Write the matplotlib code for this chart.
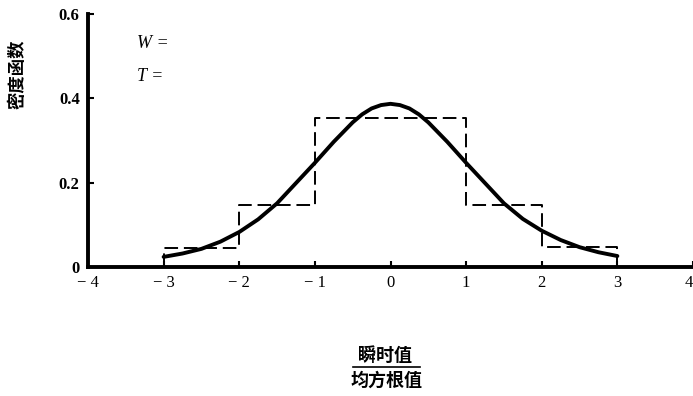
# density function of instantaneous value / rms, histogram vs curve
import matplotlib as mpl
mpl.use('Agg')
import numpy as np
import matplotlib.pyplot as plt

# histogram (dashed), bin edges and heights
bin_edges = [-3, -2, -1, 0, 1, 2, 3]
bin_heights = [0.045, 0.146, 0.353, 0.353, 0.146, 0.047]

# density curve
curve_x = [-3.0, -2.75, -2.5, -2.25, -2.0, -1.75, -1.5, -1.25, -1.0, -0.75,
           -0.5, -0.375, -0.25, -0.125, 0.0, 0.125, 0.25, 0.375, 0.5, 0.75,
           1.0, 1.25, 1.5, 1.75, 2.0, 2.25, 2.5, 2.75, 3.0]
curve_y = [0.024, 0.032, 0.043, 0.060, 0.083, 0.113, 0.151, 0.199, 0.247, 0.297,
           0.343, 0.362, 0.376, 0.384, 0.387, 0.384, 0.376, 0.362, 0.343, 0.297,
           0.247, 0.199, 0.151, 0.114, 0.086, 0.064, 0.047, 0.035, 0.026]

xticks = [-4, -3, -2, -1, 0, 1, 2, 3, 4]
xticklabels = ['\u2212 4', '\u2212 3', '\u2212 2', '\u2212 1', '0', '1', '2', '3', '4']
yticks = [0, 0.2, 0.4, 0.6]
yticklabels = ['0', '0.2', '0.4', '0.6']

cjk = ['Noto Sans CJK SC', 'DejaVu Sans']
serif = 'Liberation Serif'

fig = plt.figure(figsize=(6.93, 3.96), dpi=100)
ax = fig.add_axes([88/693, (396-267)/396, 1 - 88/693, (267-14)/396])

# dashed step outline of the histogram
hx = [bin_edges[0]]
hy = [0]
for i in range(len(bin_heights)):
    hx += [bin_edges[i], bin_edges[i+1]]
    hy += [bin_heights[i], bin_heights[i]]
hx.append(bin_edges[-1])
hy.append(0)
ax.plot(hx, hy, color='black', lw=1.4, ls=(0, (7, 3)))

ax.plot(curve_x, curve_y, color='black', lw=2.8, solid_capstyle='round',
        solid_joinstyle='round')

ax.set_xlim(-4, 4)
ax.set_ylim(0, 0.6)
for s in ['top', 'right']:
    ax.spines[s].set_visible(False)
ax.spines['left'].set_linewidth(2.8)
ax.spines['bottom'].set_linewidth(2.8)

ax.set_xticks(xticks)
ax.set_xticklabels(xticklabels, fontfamily=serif, fontsize=12)
ax.get_xticklabels()[-1].set_horizontalalignment('right')
ax.set_yticks(yticks)
ax.set_yticklabels(yticklabels, fontfamily=serif, fontsize=12, fontweight='bold')
ax.tick_params(axis='both', direction='in', length=4, width=1.5, pad=6)
ax.tick_params(axis='x', pad=6)

ax.text(-3.35, 0.52, 'W =', fontfamily=serif, fontstyle='italic', fontsize=13)
ax.text(-3.35, 0.44, 'T =', fontfamily=serif, fontstyle='italic', fontsize=13)

fig.text(18/693, 1 - 74/396, '密度函数', rotation=90, ha='center', va='center',
         family=cjk, fontsize=12.5, fontweight='bold')
fig.text(385/693, 1 - 355/396, '瞬时值', ha='center', va='center',
         family=cjk, fontsize=13, fontweight='bold')
fig.text(386/693, 1 - 380/396, '均方根值', ha='center', va='center',
         family=cjk, fontsize=13, fontweight='bold')
fig.add_artist(plt.Line2D([353/693, 420/693], [1 - 367/396, 1 - 367/396],
                          color='black', lw=1.2))

fig.savefig('out.png', dpi=100)
